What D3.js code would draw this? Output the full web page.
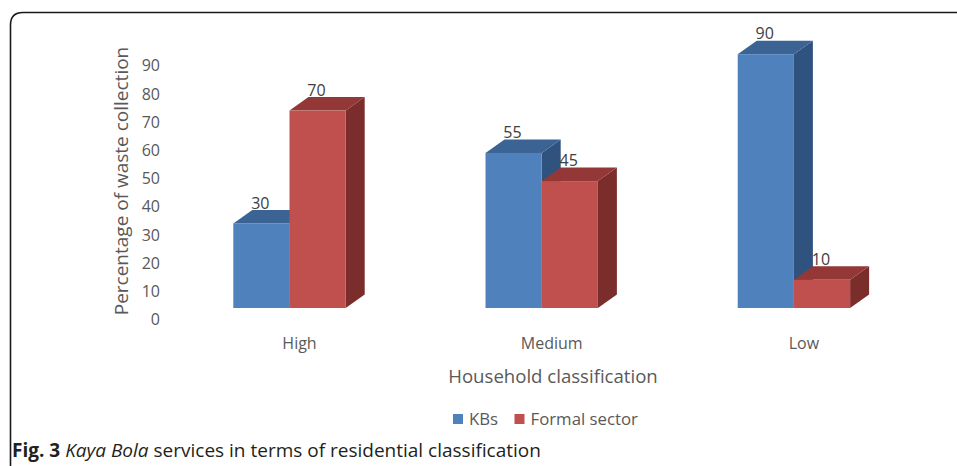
<!DOCTYPE html>
<html>
<head>
<meta charset="utf-8">
<script src="https://cdn.jsdelivr.net/npm/d3@7"></script>
<style>
  html, body { margin: 0; padding: 0; background: #fff; }
  svg { display: block; font-family: "Open Sans", sans-serif; }
</style>
</head>
<body>
<svg id="chart" width="957" height="466"></svg>
<script>
// Household classes and the share of waste collection handled by each service
const categories = ["High", "Medium", "Low"];
const seriesNames = ["KBs", "Formal sector"];
const kbsValues = [30, 55, 90];
const formalValues = [70, 45, 10];
const yTicks = [0, 10, 20, 30, 40, 50, 60, 70, 80, 90];

const palette = {
  "KBs": { front: "#4F81BD", top: "#3B6494", side: "#30527E" },
  "Formal sector": { front: "#C0504D", top: "#933836", side: "#7A2D2B" }
};

const svg = d3.select("#chart");
const textColor = "#595959";

// Rounded frame around the figure
svg.append("path")
  .attr("d", "M10.5,470 L10.5,25 Q10.5,12.5 23,12.5 L960,12.5")
  .attr("fill", "none")
  .attr("stroke", "#1a1a1a")
  .attr("stroke-width", 1.6);

// Scales
const x = d3.scaleBand().domain(categories).range([163.4, 920]).padding(0);
const y = d3.scaleLinear().domain([0, 90]).range([308, 54.2]);
const barW = 56.2;
const depthX = 19, depthY = -13.5;

// Y axis tick labels
const yAxis = svg.append("g")
  .attr("transform", "translate(160,11)")
  .call(d3.axisLeft(y).tickValues(yTicks).tickSize(0).tickPadding(0));
yAxis.select(".domain").remove();
yAxis.selectAll("text")
  .attr("fill", textColor)
  .style("font-size", "16px")
  .style("font-family", "'Open Sans', sans-serif")
  .attr("dy", "0.35em");

// Category axis labels
const xAxis = svg.append("g")
  .attr("transform", "translate(10,341)")
  .call(d3.axisBottom(x).tickSize(0).tickPadding(0));
xAxis.select(".domain").remove();
xAxis.selectAll("text")
  .attr("fill", textColor)
  .style("font-size", "16px")
  .style("font-family", "'Open Sans', sans-serif")
  .attr("dy", "0.5em");

// Build bar records
const bars = [];
categories.forEach((c, i) => {
  bars.push({ cat: c, series: "KBs", value: kbsValues[i], x0: x(c) + x.bandwidth() / 2 - barW });
  bars.push({ cat: c, series: "Formal sector", value: formalValues[i], x0: x(c) + x.bandwidth() / 2 });
});

// 3D bars: side, top, front faces drawn left to right so later bars overlap earlier ones
const g = svg.append("g");
bars.forEach(b => {
  const x0 = b.x0, x1 = b.x0 + barW;
  const yt = y(b.value), yb = y(0);
  const col = palette[b.series];
  const bg = g.append("g");
  bg.append("path")
    .attr("d", `M${x1},${yt} L${x1 + depthX},${yt + depthY} L${x1 + depthX},${yb + depthY} L${x1},${yb} Z`)
    .attr("fill", col.side);
  bg.append("path")
    .attr("d", `M${x0},${yt} L${x0 + depthX},${yt + depthY} L${x1 + depthX},${yt + depthY} L${x1},${yt} Z`)
    .attr("fill", col.top);
  bg.append("rect")
    .attr("x", x0).attr("y", yt)
    .attr("width", barW).attr("height", yb - yt)
    .attr("fill", col.front);
});

// Value labels above the back-top edge
bars.forEach(b => {
  g.append("text")
    .attr("x", b.x0 + depthX + 8)
    .attr("y", y(b.value) + depthY - 7)
    .attr("dy", "0.35em")
    .attr("text-anchor", "middle")
    .attr("fill", "#404040")
    .style("font-size", "16px")
    .text(b.value);
});

// Axis titles
svg.append("text")
  .attr("transform", "translate(121,181) rotate(-90)")
  .attr("text-anchor", "middle")
  .attr("dy", "0.35em")
  .attr("fill", textColor)
  .style("font-size", "19px")
  .text("Percentage of waste collection");

svg.append("text")
  .attr("x", 553).attr("y", 376)
  .attr("dy", "0.35em")
  .attr("text-anchor", "middle")
  .attr("fill", textColor)
  .style("font-size", "18.6px")
  .text("Household classification");

// Legend
const legend = svg.append("g");
const legendItems = [
  { name: seriesNames[0], x: 453 },
  { name: seriesNames[1], x: 514.5 }
];
legendItems.forEach(d => {
  legend.append("rect")
    .attr("x", d.x).attr("y", 414)
    .attr("width", 10).attr("height", 10)
    .attr("fill", palette[d.name].front);
  legend.append("text")
    .attr("x", d.x + 16).attr("y", 419)
    .attr("dy", "0.35em")
    .attr("fill", textColor)
    .style("font-size", "16.8px")
    .text(d.name);
});

// Caption
const cap = svg.append("text")
  .attr("x", 12).attr("y", 450)
  .attr("dy", "0.35em")
  .attr("fill", "#231f20")
  .style("font-size", "19px");
cap.append("tspan").style("font-weight", "bold").text("Fig. 3");
cap.append("tspan").text(" ");
cap.append("tspan").style("font-style", "italic").text("Kaya Bola");
cap.append("tspan").text(" services in terms of residential classification");
</script>
</body>
</html>
